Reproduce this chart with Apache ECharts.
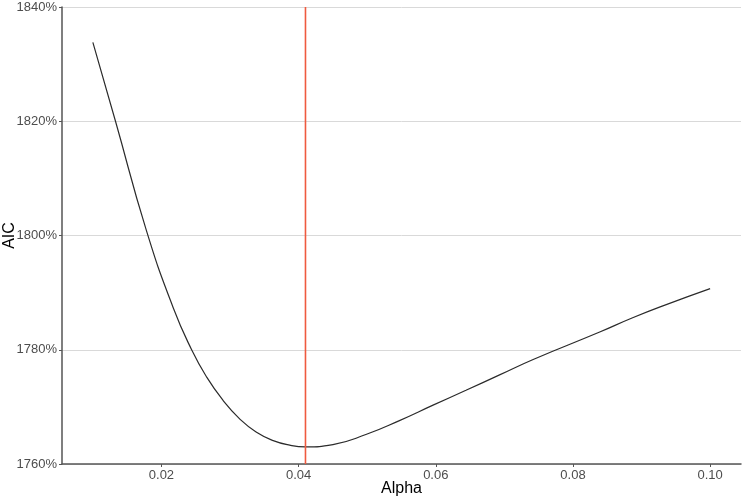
<!DOCTYPE html>
<html>
<head>
<meta charset="utf-8">
<script src="https://cdn.jsdelivr.net/npm/echarts@6/dist/echarts.min.js"></script>
<style>
  html, body { margin: 0; padding: 0; background: #fff; }
  #main { width: 746px; height: 499px; }
</style>
</head>
<body>
<div id="main"></div>
<script>
// alpha values and AIC
var alpha = [0.0100, 0.0133, 0.0178, 0.0217, 0.0244, 0.0266, 0.0290, 0.0314,
	0.0338, 0.0363, 0.0387, 0.0410, 0.0450, 0.0499, 0.0547, 0.0596, 0.0644,
	0.0693, 0.0742, 0.0839, 0.0887, 0.0936, 0.1000];
var aic = [1833.8, 1820.0, 1800.9, 1787.4, 1780.0, 1775.2, 1771.1, 1767.9,
	1765.6, 1764.1, 1763.3, 1763.0, 1763.4, 1765.2, 1767.6, 1770.3, 1772.9,
	1775.6, 1778.3, 1783.1, 1785.6, 1787.9, 1790.7];
var bestAlpha = 0.041;
var xTicks = [0.02, 0.04, 0.06, 0.08, 0.10];

var chart = echarts.init(document.getElementById('main'), null, { renderer: 'canvas' });

var points = alpha.map(function (a, i) { return [a, aic[i]]; });
var font = 'Liberation Sans, Arial, sans-serif';

chart.setOption({
	animation: false,
	backgroundColor: '#fff',
	grid: { left: 62, right: 5, top: 7, bottom: 35, containLabel: false, outerBoundsMode: 'none' },
	xAxis: {
		type: 'value',
		min: 0.0055,
		max: 0.1045,
		name: 'Alpha',
		nameLocation: 'middle',
		nameGap: 17,
		nameMoveOverlap: false,
		nameTextStyle: { color: '#000', fontSize: 16, fontFamily: font },
		axisLine: { show: true, lineStyle: { color: '#555', width: 1.5 } },
		axisTick: { show: true, length: 3, customValues: xTicks, lineStyle: { color: '#555' } },
		axisLabel: {
			customValues: xTicks,
			color: '#4d4d4d', fontSize: 13, fontFamily: font, margin: 5,
			formatter: function (v) { return v.toFixed(2); }
		},
		splitLine: { show: false }
	},
	yAxis: {
		type: 'value',
		min: 1760,
		max: 1840,
		interval: 20,
		name: 'AIC',
		nameLocation: 'middle',
		nameGap: 44,
		nameRotate: 90,
		nameMoveOverlap: false,
		nameTextStyle: { color: '#000', fontSize: 16, fontFamily: font },
		axisLine: { show: true, lineStyle: { color: '#555', width: 1.5 } },
		axisTick: { show: true, length: 3, lineStyle: { color: '#555' } },
		axisLabel: {
			color: '#4d4d4d', fontSize: 13, fontFamily: font, margin: 5,
			formatter: function (v) { return v + '%'; }
		},
		splitLine: { show: true, lineStyle: { color: '#d9d9d9', width: 1 } }
	},
	series: [{
		type: 'line',
		data: points,
		showSymbol: false,
		smooth: 0.5,
		lineStyle: { color: '#2b2b2b', width: 1.2 },
		z: 3
	}, {
		// best alpha marker
		type: 'line',
		data: [[bestAlpha, 1760], [bestAlpha, 1840]],
		showSymbol: false,
		silent: true,
		itemStyle: { color: '#ef5a3f' },
		lineStyle: { color: '#ef5a3f', width: 1.6, opacity: 1 },
		emphasis: { disabled: true },
		z: 4
	}]
});
</script>
</body>
</html>
